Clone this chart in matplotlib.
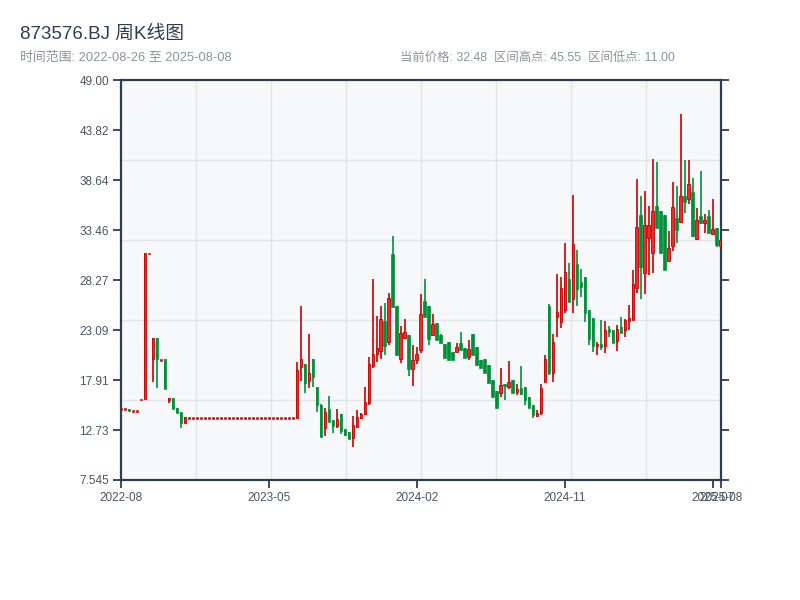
import matplotlib
matplotlib.use("Agg")
import matplotlib.pyplot as plt
import numpy as np

plt.rcParams['font.family'] = ['Liberation Sans', 'Noto Sans CJK SC', 'DejaVu Sans']

# ---- data (weekly OHLC, 151 weeks) ----
opens = [14.90, 14.90, 14.95, 14.70, 14.70, 15.90, 15.95, 31.05, 20.07, 22.25,
         20.03, 20.10, 15.80, 16.05, 15.00, 14.60, 13.50,
         14.00, 14.00, 14.00, 14.00, 14.00, 14.00, 14.00, 14.00, 14.00, 14.00,
         14.00, 14.00, 14.00, 14.00, 14.00, 14.00, 14.00, 14.00, 14.00, 14.00,
         14.00, 14.00, 14.00, 14.00, 14.00, 14.00, 14.00,
         14.00, 19.30, 19.60, 17.80, 20.07, 17.16, 15.30, 12.90, 14.90, 13.80,
         13.15, 14.40, 12.80, 12.55, 11.87, 13.05, 14.00, 14.40, 15.50, 19.40,
         20.60, 20.90, 24.00, 21.90, 31.05, 25.60, 20.15, 22.30, 22.60, 19.10,
         19.95, 21.00, 26.10, 25.60, 22.60, 23.85, 22.60, 21.70, 21.90, 20.85,
         20.86, 21.80, 21.25, 20.35, 22.65, 21.35, 20.00, 20.15, 19.45, 17.90,
         16.80, 16.55, 17.55, 17.15, 17.90, 16.70, 17.05, 17.20, 16.20, 15.30,
         14.20, 14.45, 17.75, 25.60, 18.60, 24.50, 23.90, 25.20, 28.40, 26.35,
         30.00, 28.05, 28.60, 25.20, 24.40, 21.40, 21.70, 21.40, 23.20, 23.10,
         22.00, 23.45, 23.10, 24.00, 24.20, 27.45, 35.00, 29.05, 32.70, 31.15,
         35.95, 35.45, 35.00, 30.30, 31.85, 34.70, 34.35, 37.00, 36.75, 37.40,
         32.60, 34.95, 34.25, 34.90, 33.05, 33.65, 31.80]
highs = [14.90, 14.90, 14.95, 14.70, 14.70, 16.00, 31.13, 31.05, 22.25, 22.25,
         20.03, 20.10, 16.05, 16.05, 15.00, 14.60, 14.05,
         14.00, 14.00, 14.00, 14.00, 14.00, 14.00, 14.00, 14.00, 14.00, 14.00,
         14.00, 14.00, 14.00, 14.00, 14.00, 14.00, 14.00, 14.00, 14.00, 14.00,
         14.00, 14.00, 14.00, 14.00, 14.00, 14.00, 14.00,
         19.76, 25.60, 19.60, 22.70, 20.07, 17.16, 15.45, 15.00, 16.25, 13.80,
         14.90, 14.40, 12.80, 12.55, 14.20, 14.80, 14.45, 17.20, 20.30, 28.40,
         24.55, 25.60, 25.90, 26.90, 32.85, 25.60, 23.50, 24.30, 22.60, 21.55,
         21.30, 26.85, 28.40, 25.60, 24.75, 23.85, 22.65, 21.70, 21.90, 20.85,
         21.75, 22.95, 21.25, 22.05, 22.65, 21.35, 20.00, 20.15, 19.45, 17.90,
         16.80, 19.15, 17.55, 19.90, 17.90, 17.55, 19.40, 17.20, 16.20, 15.30,
         14.80, 17.50, 20.50, 25.80, 22.70, 28.90, 28.60, 32.15, 30.05, 37.10,
         31.45, 29.45, 28.60, 25.20, 24.40, 21.90, 24.10, 24.00, 23.50, 23.10,
         23.60, 24.50, 24.30, 25.70, 29.35, 38.80, 37.00, 37.55, 35.95, 40.90,
         40.50, 35.45, 35.00, 33.40, 38.50, 38.05, 45.55, 40.80, 40.75, 38.85,
         35.75, 39.60, 35.20, 35.55, 36.70, 33.65, 32.50]
lows = [14.90, 14.90, 14.72, 14.70, 14.70, 15.90, 15.95, 31.05, 17.75, 17.06,
        20.03, 17.00, 15.50, 14.94, 14.53, 12.97, 13.50,
        14.00, 14.00, 14.00, 14.00, 14.00, 14.00, 14.00, 14.00, 14.00, 14.00,
        14.00, 14.00, 14.00, 14.00, 14.00, 14.00, 14.00, 14.00, 14.00, 14.00,
        14.00, 14.00, 14.00, 14.00, 14.00, 14.00, 14.00,
        14.00, 17.85, 16.60, 17.10, 17.20, 14.60, 12.05, 12.15, 13.60, 12.45,
        12.95, 12.35, 12.15, 11.80, 11.00, 12.90, 13.85, 14.30, 15.35, 19.20,
        19.80, 20.15, 20.50, 21.60, 25.55, 20.50, 19.65, 22.20, 18.30, 17.35,
        19.60, 20.70, 24.50, 21.55, 22.50, 22.10, 21.80, 20.20, 20.00, 20.00,
        20.86, 21.00, 20.20, 20.00, 20.50, 19.45, 19.20, 18.65, 17.60, 16.20,
        15.05, 16.20, 15.85, 16.95, 16.55, 16.35, 16.35, 15.30, 15.00, 14.00,
        14.10, 14.30, 17.75, 18.45, 17.75, 22.35, 23.30, 24.90, 26.00, 24.90,
        25.60, 26.55, 23.90, 21.55, 20.85, 20.50, 21.00, 20.70, 22.35, 21.75,
        20.95, 22.75, 22.40, 23.10, 24.15, 27.00, 26.35, 26.85, 28.80, 29.00,
        33.65, 31.15, 29.30, 30.20, 31.35, 32.15, 34.25, 35.30, 36.15, 32.75,
        32.50, 34.15, 33.15, 33.15, 32.95, 31.75, 31.70]
closes = [14.90, 14.90, 14.75, 14.70, 14.70, 16.00, 31.13, 31.05, 22.25, 20.07,
          20.03, 17.00, 16.05, 14.94, 14.55, 13.50, 14.05,
          14.00, 14.00, 14.00, 14.00, 14.00, 14.00, 14.00, 14.00, 14.00, 14.00,
          14.00, 14.00, 14.00, 14.00, 14.00, 14.00, 14.00, 14.00, 14.00, 14.00,
          14.00, 14.00, 14.00, 14.00, 14.00, 14.00, 14.00,
          18.96, 20.10, 17.60, 18.70, 18.27, 15.30, 12.05, 14.60, 13.60, 13.10,
          13.85, 12.60, 12.20, 11.80, 13.25, 14.10, 14.40, 15.60, 19.55, 20.60,
          21.20, 24.30, 21.50, 26.40, 25.55, 20.50, 22.75, 22.90, 19.10, 20.05,
          20.60, 24.75, 24.50, 22.20, 23.70, 22.10, 21.80, 20.20, 20.00, 20.00,
          21.35, 21.05, 20.20, 21.15, 20.50, 19.45, 19.20, 18.65, 17.60, 16.20,
          15.05, 17.40, 17.30, 17.75, 16.55, 17.00, 16.50, 15.85, 15.00, 14.30,
          14.50, 17.05, 20.15, 18.60, 21.90, 25.00, 27.50, 29.10, 26.00, 32.00,
          27.40, 27.55, 24.85, 22.20, 21.40, 21.70, 21.30, 23.10, 22.90, 21.75,
          23.20, 22.80, 24.15, 24.40, 27.90, 33.75, 29.70, 34.00, 34.00, 35.45,
          33.70, 31.15, 29.30, 31.60, 35.85, 33.50, 37.00, 36.40, 38.25, 32.85,
          34.50, 34.25, 34.50, 33.20, 33.55, 31.90, 32.48]

x_tick_labels = ['2022-08', '2023-05', '2024-02', '2024-11', '2025-07', '2025-08']
y_tick_labels = ['7.545', '12.73', '17.91', '23.09', '28.27', '33.46', '38.64', '43.82', '49.00']

title = '873576.BJ 周K线图'
subtitle = '时间范围: 2022-08-26 至 2025-08-08'
info = '当前价格: 32.48  区间高点: 45.55  区间低点: 11.00'

# ---- styling ----
UP_FACE = '#ee2b2b'
UP_EDGE = '#c80000'
DOWN = '#00903a'
SPINE = '#2c3e50'
GRID = '#e2e5ea'
BG = '#f7f8fa'

fig = plt.figure(figsize=(8, 6), dpi=100)
ax = fig.add_axes([120.7 / 800, 120 / 600, 600 / 800, 399.5 / 600])
ax.set_facecolor(BG)

n = len(closes)
o = np.array(opens); h = np.array(highs); l = np.array(lows); c = np.array(closes)
x = np.arange(n)
lo_all, hi_all = l.min(), h.max()
pad = (hi_all - lo_all) * 0.1
ymin, ymax = lo_all - pad, hi_all + pad

# grid
for k in range(1, 8):
    ax.axvline((n - 1) * k / 8, color=GRID, lw=1.0, zorder=0)
for k in range(1, 5):
    ax.axhline(ymin + (ymax - ymin) * k / 5, color=GRID, lw=1.0, zorder=0)

up = c >= o
min_h = 0.2
W = 0.6
for i in range(n):
    if up[i]:
        ax.vlines(x[i], l[i], h[i], color=UP_EDGE, lw=1.2, zorder=2)
        if c[i] - o[i] >= min_h:
            ax.bar(x[i], c[i] - o[i], bottom=o[i], width=W, color=UP_FACE,
                   edgecolor=UP_EDGE, linewidth=0.6, zorder=3)
        else:
            ax.bar(x[i], min_h, bottom=o[i] - min_h / 2, width=W, color=UP_EDGE,
                   edgecolor=UP_EDGE, linewidth=0.4, zorder=3)
    else:
        ax.vlines(x[i], l[i], h[i], color=DOWN, lw=1.2, zorder=2)
        bh = max(o[i] - c[i], min_h)
        ax.bar(x[i], bh, bottom=c[i], width=W, color=DOWN,
               edgecolor=DOWN, linewidth=0.5, zorder=3)

ax.set_xlim(0, n - 1)
ax.set_ylim(ymin, ymax)

xt = list(range(0, n, (n - 1) // 4)) + [n - 1]
ax.set_xticks(xt)
ax.set_xticklabels(x_tick_labels)
yt = np.linspace(ymin, ymax, 9)
ax.set_yticks(yt)
ax.set_yticklabels(y_tick_labels)

for s in ax.spines.values():
    s.set_color(SPINE)
    s.set_linewidth(1.6)
ax.tick_params(axis='both', colors=SPINE, width=1.3, length=5.5, labelsize=8.5,
               labelcolor='#4a5563', pad=3)
ax.tick_params(axis='y', right=True, labelright=False)

fig.text(20 / 800, 1 - 34 / 600, title, fontsize=13.5, color='#2c3e50', va='center', ha='left')
fig.text(20 / 800, 1 - 58 / 600, subtitle, fontsize=9.3, color='#8c939d', va='center', ha='left')
fig.text(400 / 800, 1 - 58 / 600, info, fontsize=8.9, color='#8c939d', va='center', ha='left')

fig.savefig('out.png', dpi=100)
